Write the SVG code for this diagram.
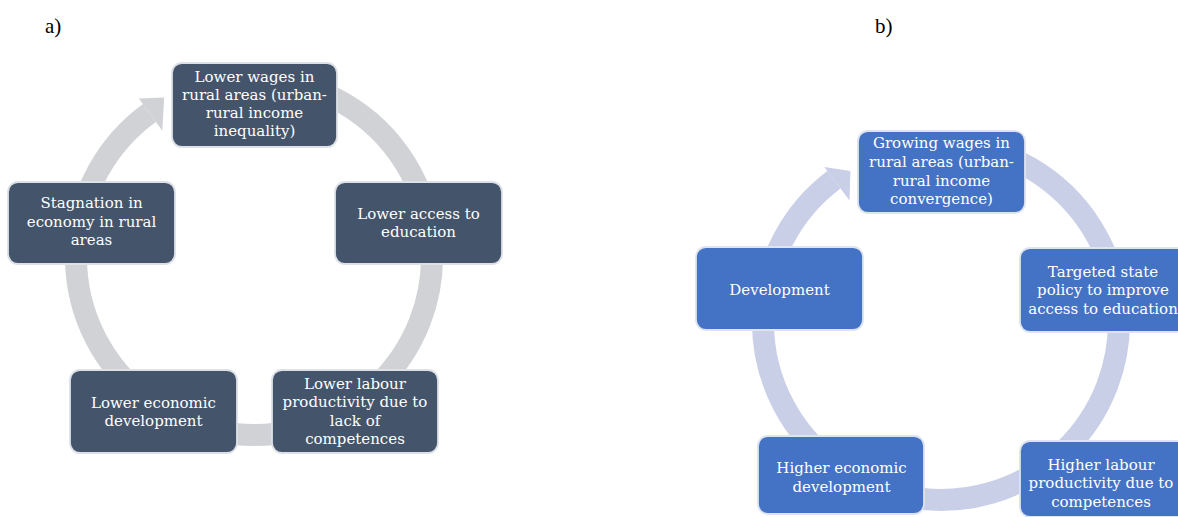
<svg xmlns="http://www.w3.org/2000/svg" width="1178" height="517" viewBox="0 0 1178 517">
<style>
.lbl{font-family:"Liberation Serif","Times New Roman",serif;font-size:21px;fill:#000}
.t{font-family:"DejaVu Serif","Liberation Serif",serif;font-size:15px;fill:#ffffff;text-anchor:middle}
.na{fill:#44546a;stroke:#dde1e7;stroke-width:1.8}
.nb{fill:#4472c4;stroke:#dde3ef;stroke-width:1.8}
.ringa{fill:none;stroke:#d1d2d5;stroke-width:22}
.ringb{fill:none;stroke:#c9cfe7;stroke-width:22}
</style>
<rect width="1178" height="517" fill="#ffffff"/>
<text class="lbl" x="45" y="33">a)</text>
<text class="lbl" x="875" y="33">b)</text>
<g id="connectors">
<path class="ringa" d="M 269.5 79.7 A 178 178 0 1 1 149.4 113.0"/>
<polygon points="138.8,98.4 164.2,97.6 162.3,130.8" fill="#d1d2d5"/>
<path class="ringb" d="M 956.5 144.7 A 178 178 0 1 1 833.9 179.8"/>
<polygon points="824.3,167.1 850.4,171.1 849.5,200.6" fill="#c9cfe7"/>
</g>
<g id="a-top">
<rect class="na" x="172" y="63" width="165" height="84" rx="10"/>
<text class="t" x="254.5" y="81.5">Lower wages in</text>
<text class="t" x="254.5" y="99.8">rural areas (urban-</text>
<text class="t" x="254.5" y="118.1">rural income</text>
<text class="t" x="254.5" y="136.4">inequality)</text>
</g>
<g id="a-right">
<rect class="na" x="335" y="182" width="167" height="82" rx="10"/>
<text class="t" x="418.5" y="218.5">Lower access to</text>
<text class="t" x="418.5" y="236.8">education</text>
</g>
<g id="a-bottom-right">
<rect class="na" x="272" y="370" width="166" height="83" rx="10"/>
<text class="t" x="355" y="389">Lower labour</text>
<text class="t" x="355" y="407.3">productivity due to</text>
<text class="t" x="355" y="425.6">lack of</text>
<text class="t" x="355" y="443.9">competences</text>
</g>
<g id="a-bottom-left">
<rect class="na" x="70" y="370" width="167" height="83" rx="10"/>
<text class="t" x="153.5" y="407.5">Lower economic</text>
<text class="t" x="153.5" y="425.8">development</text>
</g>
<g id="a-left">
<rect class="na" x="8" y="182" width="167" height="82" rx="10"/>
<text class="t" x="91.5" y="208">Stagnation in</text>
<text class="t" x="91.5" y="226.5">economy in rural</text>
<text class="t" x="91.5" y="245">areas</text>
</g>
<g id="b-top">
<rect class="nb" x="858" y="131" width="167" height="82" rx="10"/>
<text class="t" x="941.5" y="148.3">Growing wages in</text>
<text class="t" x="941.5" y="166.9">rural areas (urban-</text>
<text class="t" x="941.5" y="185.5">rural income</text>
<text class="t" x="941.5" y="204.1">convergence)</text>
</g>
<g id="b-right">
<rect class="nb" x="1020" y="248" width="167" height="84" rx="10"/>
<text class="t" x="1103" y="276.5">Targeted state</text>
<text class="t" x="1103" y="295">policy to improve</text>
<text class="t" x="1103" y="313.5">access to education</text>
</g>
<g id="b-bottom-right">
<rect class="nb" x="1020" y="441" width="167" height="76" rx="10"/>
<text class="t" x="1101" y="470">Higher labour</text>
<text class="t" x="1101" y="488.3">productivity due to</text>
<text class="t" x="1101" y="506.6">competences</text>
</g>
<g id="b-bottom-left">
<rect class="nb" x="758" y="436" width="166" height="78" rx="10"/>
<text class="t" x="841.5" y="473">Higher economic</text>
<text class="t" x="841.5" y="491.5">development</text>
</g>
<g id="b-left">
<rect class="nb" x="696" y="247" width="167" height="83" rx="10"/>
<text class="t" x="779.5" y="295">Development</text>
</g>
</svg>
